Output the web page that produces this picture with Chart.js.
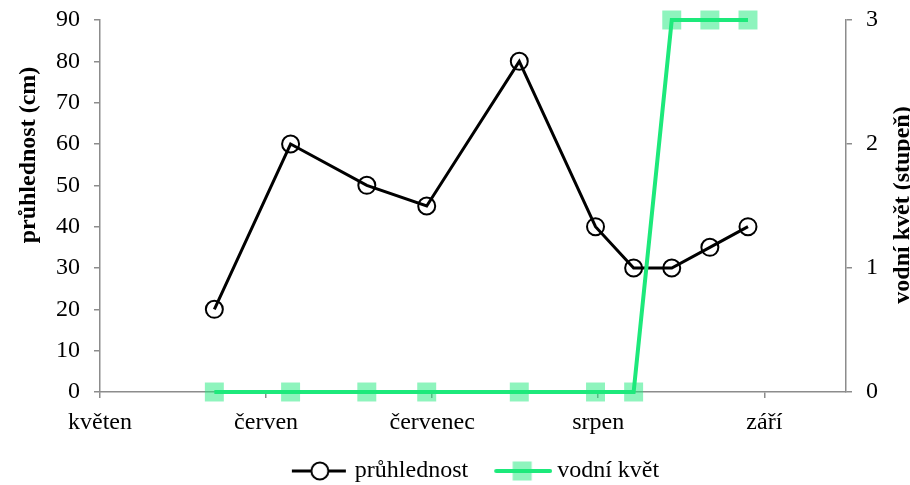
<!DOCTYPE html>
<html>
<head>
<meta charset="utf-8">
<script src="https://cdn.jsdelivr.net/npm/chart.js@4.4.1/dist/chart.umd.min.js"></script>
<style>
  html, body { margin: 0; padding: 0; background: #fff; }
  #wrap { width: 910px; height: 485px; }
</style>
</head>
<body>
<div id="wrap"><canvas id="main-chart" width="910" height="485"></canvas></div>
<script>
// dny od 1. května (měřítko: měsíc = 30,5 dne)
const sampleDays = [21, 35, 49, 60, 77, 91, 98, 105, 112, 119];
const pruhlednost = [20, 60, 50, 45, 80, 40, 30, 30, 35, 40];
const vodniKvet = [0, 0, 0, 0, 0, 0, 0, 3, 3, 3];

const monthLabels = ['květen', 'červen', 'červenec', 'srpen', 'září'];
const monthTicks = [0, 30.5, 61, 91.5, 122];

const leftTitle = 'průhlednost (cm)';
const rightTitleText = 'vodní květ (stupeň)';

const FONT = "'Liberation Serif', 'Times New Roman', serif";
const AXIS_GRAY = '#8c8c8c';
const GREEN = '#1de97b';
const GREEN_FILL = 'rgba(29, 233, 123, 0.5)';

// malé obrázky pro legendu (čára + značka), posunuté o 7 px doprava
function legendIcon(kind) {
    const c = document.createElement('canvas');
    c.width = 70; c.height = 22;
    const g = c.getContext('2d');
    const x0 = 12, mid = 40;
    if (kind === 'circle') {
        g.strokeStyle = '#000'; g.lineWidth = 3;
        g.beginPath(); g.moveTo(x0, 11); g.lineTo(mid - 9, 11); g.moveTo(mid + 9, 11); g.lineTo(x0 + 54, 11); g.stroke();
        g.lineWidth = 2;
        g.beginPath(); g.arc(mid, 11, 8.5, 0, Math.PI * 2); g.stroke();
    } else {
        g.fillStyle = GREEN_FILL;
        g.fillRect(mid - 9.5, 1.5, 19, 19);
        g.strokeStyle = GREEN; g.lineWidth = 4; g.lineCap = 'round';
        g.beginPath(); g.moveTo(x0 + 2, 11); g.lineTo(x0 + 56, 11); g.stroke();
    }
    return c;
}

const toPoints = (vals) => vals.map((v, i) => ({ x: sampleDays[i], y: v }));

// titulky os, obě čtené zdola nahoru
const axisTitles = {
    id: 'axisTitles',
    afterDraw(chart) {
        const c = chart.ctx;
        const put = (text, x, y) => {
            c.save();
            c.translate(x, y);
            c.rotate(-Math.PI / 2);
            c.font = 'bold 24px ' + FONT;
            c.fillStyle = '#000';
            c.textAlign = 'center';
            c.textBaseline = 'middle';
            c.fillText(text, 0, 0);
            c.restore();
        };
        put(leftTitle, 29, 155);
        put(rightTitleText, 903, 205);
    }
};

// svislé osy: pevná šířka, bez přídavku nahoře/dole
const fixVertical = (w) => (scale) => {
    scale.width = w;
    scale.paddingTop = 0;
    scale.paddingBottom = 0;
};

const ctx = document.getElementById('main-chart').getContext('2d');
new Chart(ctx, {
    type: 'line',
    data: {
        datasets: [{
            label: 'průhlednost',
            data: toPoints(pruhlednost),
            yAxisID: 'y',
            borderColor: '#000',
            borderWidth: 3,
            tension: 0,
            clip: false,
            pointStyle: 'circle',
            pointRadius: 8.5,
            pointBorderWidth: 2,
            pointBorderColor: '#000',
            pointBackgroundColor: 'rgba(0,0,0,0)',
            order: 1
        }, {
            label: 'vodní květ',
            data: toPoints(vodniKvet),
            yAxisID: 'y2',
            borderColor: GREEN,
            borderWidth: 4,
            tension: 0,
            clip: false,
            pointStyle: 'rect',
            pointRadius: 13.4,
            pointBorderWidth: 0,
            pointBackgroundColor: GREEN_FILL,
            order: 0
        }]
    },
    options: {
        responsive: false,
        animation: false,
        layout: { padding: { top: 20, left: 0, right: 0, bottom: -8 } },
        scales: {
            x: {
                type: 'linear',
                min: 0,
                max: 137,
                afterBuildTicks: (scale) => { scale.ticks = monthTicks.map(v => ({ value: v })); },
                afterFit: (scale) => { scale.height = 46; },
                ticks: {
                    autoSkip: false,
                    maxRotation: 0,
                    padding: 10,
                    color: '#000',
                    font: { family: FONT, size: 24 },
                    callback: (v) => monthLabels[monthTicks.indexOf(v)]
                },
                grid: { drawOnChartArea: false, tickLength: 6, color: AXIS_GRAY, lineWidth: 1.5 },
                border: { color: AXIS_GRAY, width: 1.5 }
            },
            y: {
                position: 'left',
                min: 0,
                max: 90,
                afterFit: fixVertical(100),
                ticks: {
                    stepSize: 10,
                    padding: 14,
                    color: '#000',
                    font: { family: FONT, size: 24 }
                },
                grid: { drawOnChartArea: false, tickLength: 6, color: AXIS_GRAY, lineWidth: 1.5 },
                border: { color: AXIS_GRAY, width: 1.5 }
            },
            y2: {
                position: 'right',
                min: 0,
                max: 3,
                afterFit: fixVertical(64),
                ticks: {
                    stepSize: 1,
                    padding: 14,
                    color: '#000',
                    font: { family: FONT, size: 24 }
                },
                grid: { drawOnChartArea: false, tickLength: 6, color: AXIS_GRAY, lineWidth: 1.5 },
                border: { color: AXIS_GRAY, width: 1.5 }
            }
        },
        plugins: {
            tooltip: { enabled: false },
            legend: {
                position: 'bottom',
                fullSize: false,
                labels: {
                    color: '#000',
                    font: { family: FONT, size: 24 },
                    usePointStyle: true,
                    pointStyleWidth: 56,
                    padding: 21,
                    generateLabels: (chart) => chart.data.datasets.map((d, i) => ({
                        text: d.label,
                        datasetIndex: i,
                        fontColor: '#000',
                        pointStyle: legendIcon(i === 0 ? 'circle' : 'rect'),
                        lineWidth: 0,
                        hidden: false
                    })),
                    sort: (a, b) => a.datasetIndex - b.datasetIndex
                }
            }
        }
    },
    plugins: [axisTitles]
});
</script>
</body>
</html>
